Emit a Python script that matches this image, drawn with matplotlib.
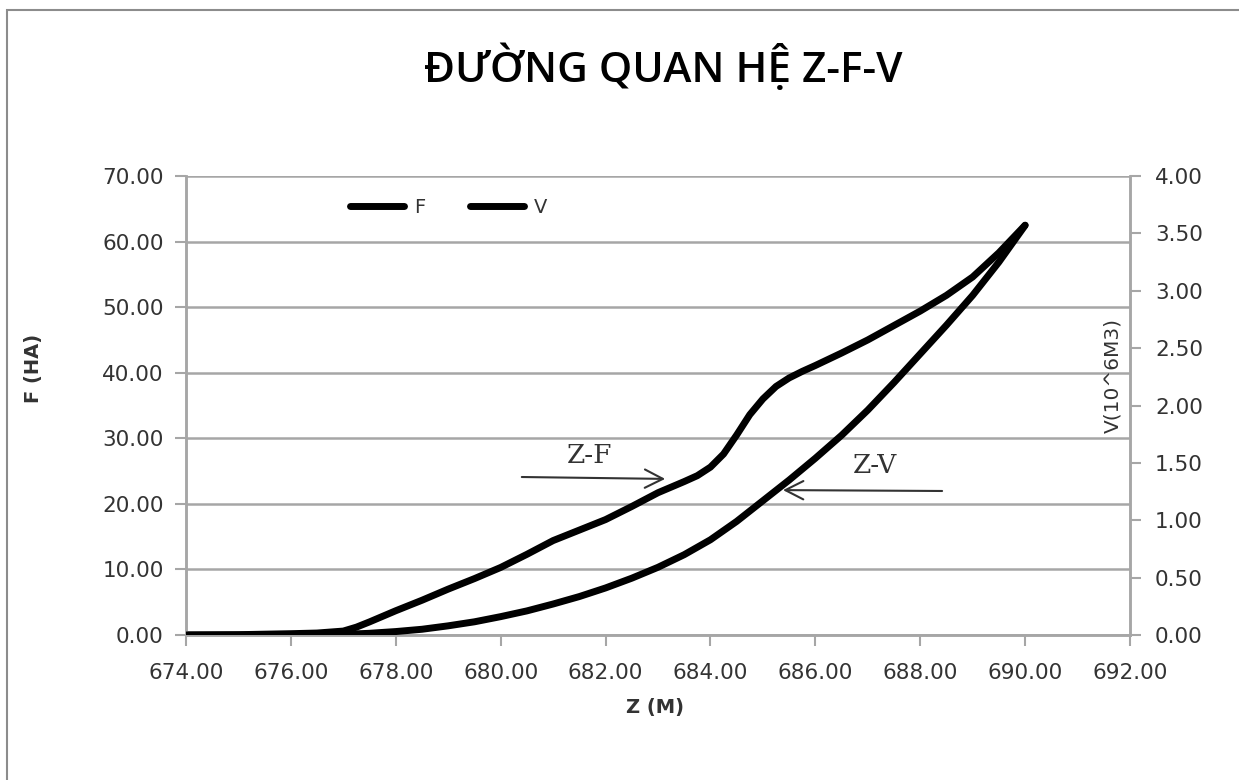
import matplotlib.pyplot as plt
from matplotlib.patches import Rectangle

# Z (m) vs F (ha) and V (10^6 m3)
z_f = [674, 675, 676, 676.5, 677, 677.25, 677.5, 678, 678.5, 679, 679.5, 680, 680.5,
       681, 681.5, 682, 682.5, 683, 683.5, 683.75, 684, 684.25, 684.5, 684.75, 685,
       685.25, 685.5, 685.75, 686, 686.5, 687, 687.5, 688, 688.5, 689, 689.5, 690]
f_vals = [0.0, 0.05, 0.2, 0.3, 0.6, 1.2, 2.0, 3.7, 5.3, 7.0, 8.6, 10.3, 12.3,
          14.4, 16.0, 17.6, 19.6, 21.7, 23.4, 24.3, 25.6, 27.6, 30.5, 33.6, 36.0,
          37.9, 39.2, 40.2, 41.1, 43.0, 45.0, 47.2, 49.4, 51.8, 54.6, 58.3, 62.5]

z_v = [674, 675, 676, 677, 677.5, 678, 678.5, 679, 679.5, 680, 680.5, 681, 681.5, 682,
       682.5, 683, 683.5, 684, 684.5, 685, 685.5, 686, 686.5, 687, 687.5, 688, 688.5,
       689, 689.5, 690]
v_vals = [0.0, 0.0, 0.0, 0.005, 0.015, 0.03, 0.05, 0.08, 0.115, 0.16, 0.21, 0.27, 0.335,
          0.41, 0.495, 0.59, 0.70, 0.83, 0.99, 1.17, 1.35, 1.54, 1.74, 1.96, 2.2, 2.45,
          2.7, 2.96, 3.25, 3.57]

x_ticks = [674 + 2 * i for i in range(10)]
f_ticks = [10 * i for i in range(8)]
v_ticks = [0.5 * i for i in range(9)]

grey = '#a6a6a6'
txt = '#333333'

fig = plt.figure(figsize=(12.39, 7.80), dpi=100)
fig.patches.append(Rectangle((7 / 1239, -0.1), 1.2, 1 - 10 / 780 + 0.1,
                             transform=fig.transFigure, fill=False,
                             edgecolor='#8c8c8c', linewidth=1.5))

ax = fig.add_axes([186 / 1239, 1 - 635 / 780, (1130 - 186) / 1239, (635 - 176) / 780])
ax2 = ax.twinx()

lf, = ax.plot(z_f, f_vals, color='black', lw=5, solid_capstyle='round',
              solid_joinstyle='round', label='F', zorder=3)
lv, = ax2.plot(z_v, v_vals, color='black', lw=5, solid_capstyle='round',
               solid_joinstyle='round', label='V', zorder=3)

ax.set_xlim(674, 692)
ax.set_ylim(0, 70)
ax2.set_ylim(0, 4)
ax.set_xticks(x_ticks)
ax.set_xticklabels(['%.2f' % t for t in x_ticks])
ax.set_yticks(f_ticks)
ax.set_yticklabels(['%.2f' % t for t in f_ticks])
ax2.set_yticks(v_ticks)
ax2.set_yticklabels(['%.2f' % t for t in v_ticks])

ax.grid(True, axis='y', color=grey, lw=1.8)
ax.set_axisbelow(True)
for a in (ax, ax2):
    a.spines['top'].set_visible(False)
    for s in ('left', 'right', 'bottom'):
        a.spines[s].set_color(grey)
        a.spines[s].set_linewidth(1.8)
    a.tick_params(colors=grey, length=8, width=1.5, labelsize=15.5, labelcolor=txt)
ax.tick_params(axis='x', pad=12)
ax.tick_params(axis='y', pad=8)
ax2.tick_params(axis='y', pad=10)

fig.text(663 / 1239, 1 - 68 / 780, 'ĐƯỜNG QUAN HỆ Z-F-V', fontsize=30.5,
         family=['Open Sans', 'Noto Sans'], fontweight='semibold', ha='center',
         va='center', color='black')
fig.text(655 / 1239, 1 - 707 / 780, 'Z (M)', fontsize=14, fontweight='bold',
         ha='center', va='center', color=txt)
fig.text(33 / 1239, 1 - 368 / 780, 'F (HA)', fontsize=14, fontweight='bold',
         rotation=90, ha='center', va='center', color=txt)
ax.text(0.982, 0.565, 'V(10^6M3)', transform=ax.transAxes, fontsize=14.5,
        rotation=90, ha='center', va='center', color=txt)

ax.legend(handles=[lf, lv], loc='upper left', bbox_to_anchor=(0.155, 0.99), ncol=2,
          frameon=False, fontsize=14, handlelength=2.8, handletextpad=0.5,
          columnspacing=2.3, labelcolor=txt)

arrow = dict(arrowstyle='->, head_length=0.65, head_width=0.33', color=txt, lw=1.5,
             mutation_scale=20)
ax.annotate('', xy=(683.19, 23.8), xytext=(680.35, 24.1), arrowprops=arrow, zorder=4)
ax.annotate('', xy=(685.33, 22.1), xytext=(688.47, 21.96), arrowprops=arrow, zorder=4)
ax.text(681.70, 27.45, 'Z-F', family='DejaVu Serif', fontsize=19, ha='center',
        va='center', color=txt)
ax.text(687.14, 25.9, 'Z-V', family='DejaVu Serif', fontsize=19, ha='center',
        va='center', color=txt)

fig.savefig('out.png', dpi=100)
